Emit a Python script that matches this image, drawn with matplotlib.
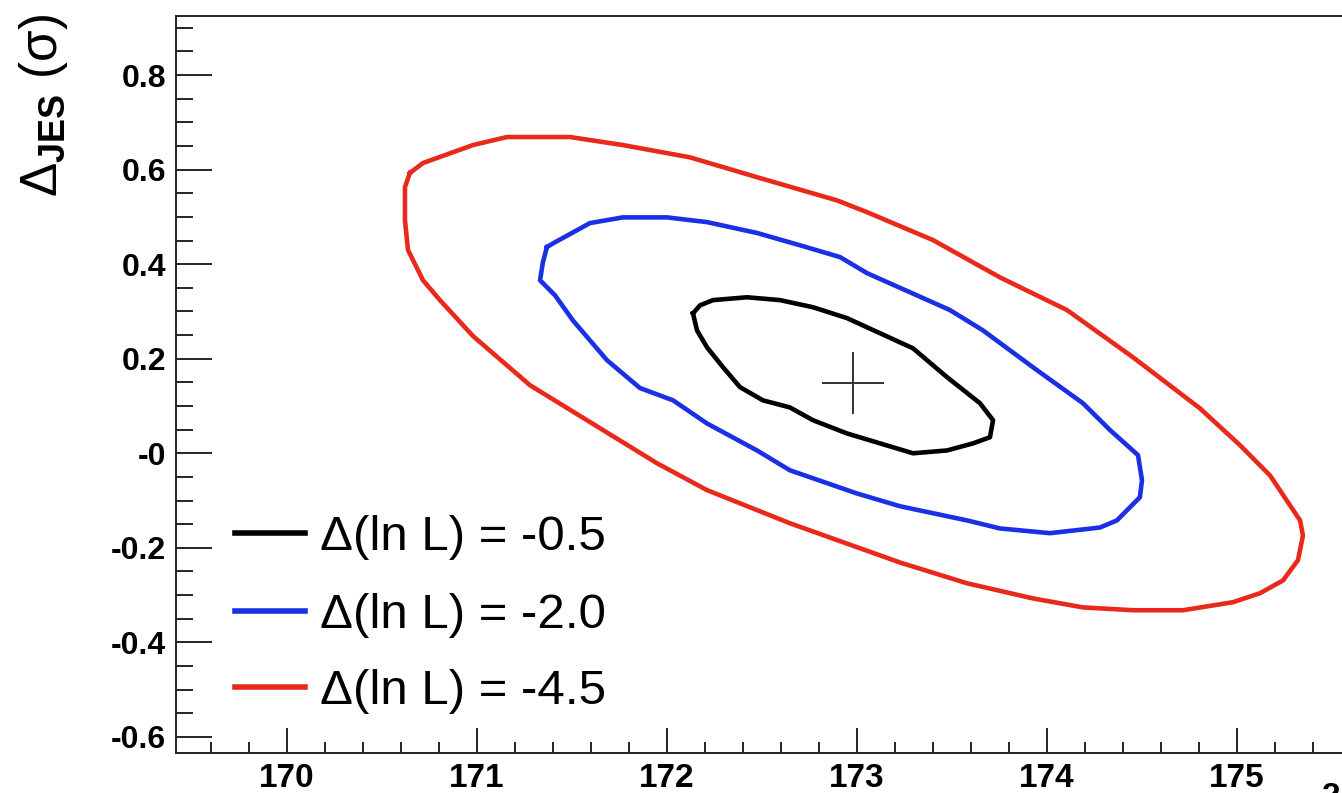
import matplotlib
matplotlib.use("Agg")
import matplotlib.pyplot as plt
import numpy as np
from matplotlib.lines import Line2D
from matplotlib.ticker import MultipleLocator, FixedLocator, FixedFormatter

plt.rcParams["font.family"] = ["Liberation Sans", "DejaVu Sans"]
plt.rcParams["mathtext.fontset"] = "custom"
plt.rcParams["mathtext.rm"] = "Liberation Sans"
plt.rcParams["mathtext.bf"] = "Liberation Sans:bold"
plt.rcParams["mathtext.it"] = "Liberation Sans:italic"

# contour levels of the likelihood fit (m_top vs Delta_JES)
labels = ["\u0394(ln L) = -0.5", "\u0394(ln L) = -2.0", "\u0394(ln L) = -4.5"]
colors = ["#000000", "#1a30e4", "#e8291c"]

black_x = [172.137, 172.174, 172.242, 172.421, 172.595, 172.768, 172.947, 173.121,
           173.295, 173.474, 173.647, 173.716, 173.700, 173.611, 173.474, 173.295,
           173.121, 172.947, 172.768, 172.647, 172.505, 172.384, 172.295, 172.211,
           172.158]
black_y = [0.296, 0.313, 0.324, 0.330, 0.324, 0.309, 0.286, 0.254,
           0.222, 0.161, 0.106, 0.070, 0.034, 0.021, 0.006, 0.000,
           0.021, 0.042, 0.070, 0.097, 0.112, 0.140, 0.182, 0.224,
           0.260]

blue_x = [171.368, 171.400, 171.595, 171.768, 172.000, 172.211, 172.474, 172.700,
          172.911, 173.053, 173.489, 173.663, 173.926, 174.189, 174.332, 174.421,
          174.479, 174.500, 174.489, 174.368, 174.279, 174.016, 173.753, 173.579,
          173.226, 173.000, 172.647, 172.474, 172.211, 172.032, 171.858, 171.684,
          171.505, 171.411, 171.332, 171.347]
blue_y = [0.436, 0.444, 0.487, 0.499, 0.499, 0.489, 0.466, 0.440,
          0.415, 0.381, 0.303, 0.260, 0.182, 0.106, 0.049, 0.017,
          -0.004, -0.057, -0.093, -0.142, -0.157, -0.169, -0.159, -0.142,
          -0.112, -0.085, -0.036, 0.006, 0.063, 0.112, 0.138, 0.197,
          0.281, 0.334, 0.366, 0.404]

red_x = [170.647, 170.716, 170.979, 171.158, 171.489, 171.768, 172.121, 172.474,
         172.895, 173.053, 173.400, 173.753, 174.105, 174.453, 174.805, 175.016,
         175.174, 175.332, 175.347, 175.321, 175.242, 175.121, 174.979, 174.716,
         174.453, 174.189, 173.926, 173.579, 173.226, 172.647, 172.211, 171.947,
         171.595, 171.279, 170.979, 170.805, 170.716, 170.637, 170.621, 170.621]
red_y = [0.593, 0.614, 0.652, 0.669, 0.669, 0.652, 0.626, 0.584,
         0.535, 0.510, 0.451, 0.372, 0.303, 0.203, 0.095, 0.017,
         -0.047, -0.142, -0.174, -0.226, -0.269, -0.296, -0.315, -0.332,
         -0.332, -0.326, -0.307, -0.275, -0.231, -0.148, -0.078, -0.021,
         0.066, 0.144, 0.248, 0.324, 0.366, 0.430, 0.493, 0.563]

best_x = [172.98]
best_y = [0.148]

x_ticks = [170, 171, 172, 173, 174, 175]
y_ticks = [-0.6, -0.4, -0.2, 0.0, 0.2, 0.4, 0.6, 0.8]
y_tick_labels = ["-0.6", "-0.4", "-0.2", "-0", "0.2", "0.4", "0.6", "0.8"]

W, H = 1342, 793
fig = plt.figure(figsize=(W / 100, H / 100), dpi=100)
ax = fig.add_axes([176 / W, 1 - 753 / H, (1351 - 176) / W, (753 - 16) / H])

contours = [(black_x, black_y), (blue_x, blue_y), (red_x, red_y)]
for (cx, cy), col in zip(contours, colors):
    cx = np.append(cx, cx[0])
    cy = np.append(cy, cy[0])
    ax.plot(cx, cy, color=col, lw=3.3, solid_joinstyle="round")

ax.plot(best_x, best_y, marker="+", ms=45, mew=1.4, color="#333333", ls="none")

ax.set_xlim(169.416, 175.6)
ax.set_ylim(-0.634, 0.925)

ax.xaxis.set_major_locator(FixedLocator(x_ticks))
ax.xaxis.set_minor_locator(MultipleLocator(0.2))
ax.yaxis.set_major_locator(FixedLocator(y_ticks))
ax.yaxis.set_major_formatter(FixedFormatter(y_tick_labels))
ax.yaxis.set_minor_locator(MultipleLocator(0.05))

ax.tick_params(axis="x", which="major", direction="in", length=18, width=1.2,
               labelsize=24, pad=7, top=False)
ax.tick_params(axis="x", which="minor", direction="in", length=8, width=1.2, top=False)
ax.tick_params(axis="y", which="major", direction="in", length=26, width=1.2,
               labelsize=23, pad=7, right=False)
ax.tick_params(axis="y", which="minor", direction="in", length=12, width=1.2, right=False)
for lab in ax.get_xticklabels() + ax.get_yticklabels():
    lab.set_fontweight("bold")
for sp in ax.spines.values():
    sp.set_linewidth(1.4)
    sp.set_color("#222222")

fig.text(17 / W, 1 - 14 / H, "\u0394$_{\\mathbf{JES}}$ (\u03c3)", rotation=90,
         ha="left", va="top", fontsize=37)

# legend drawn by hand to sit like the ROOT TLegend
rows = [533, 611, 687]
for lab, col, py in zip(labels, colors, rows):
    fig.add_artist(Line2D([235 / W, 305 / W], [1 - py / H, 1 - py / H],
                          color=col, lw=4))
    fig.text(320 / W, 1 - (py + 4) / H, lab, ha="left", va="center", fontsize=35.5)

# start of the cropped x-axis title
fig.text(1322 / W, 1 - 782 / H, "2", ha="left", va="top", fontsize=24,
         fontweight="bold")

fig.savefig("out.png", dpi=100)
